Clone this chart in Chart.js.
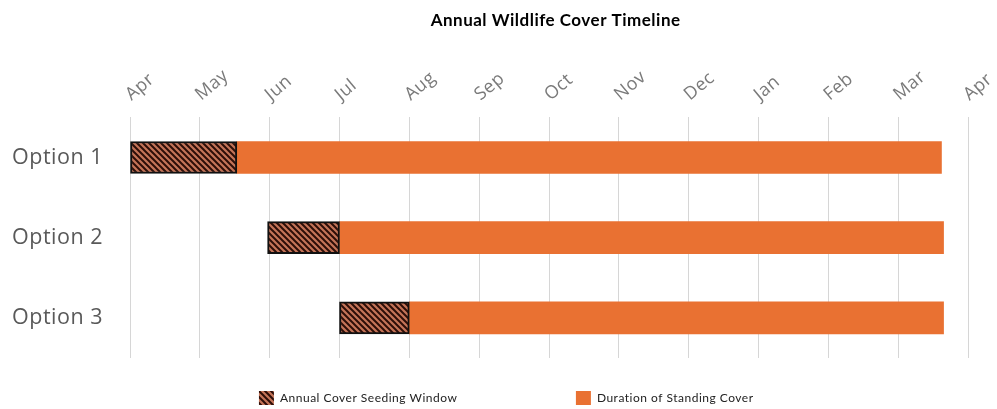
<!DOCTYPE html>
<html>
<head>
<meta charset="utf-8">
<script src="https://cdn.jsdelivr.net/npm/chart.js@4.4.1/dist/chart.umd.min.js"></script>
<style>
  html, body { margin: 0; padding: 0; background: #fff; }
  canvas { display: block; }
</style>
</head>
<body>
<canvas id="timelineChart" width="997" height="409"></canvas>
<script>
// months along the top axis, 0 = Apr ... 12 = Apr
const monthLabels = ['Apr', 'May', 'Jun', 'Jul', 'Aug', 'Sep', 'Oct', 'Nov', 'Dec', 'Jan', 'Feb', 'Mar', 'Apr']
const options = ['Option 1', 'Option 2', 'Option 3']

// [start, end] in months from April
const seedingWindow = [[0, 1.53], [1.97, 3], [3, 4]]
const standingCover = [[1.53, 11.62], [3, 11.65], [4, 11.65]]

const orange = '#E97132'

function makeHatch () {
  const tile = document.createElement('canvas')
  tile.width = 6
  tile.height = 6
  const c = tile.getContext('2d')
  c.fillStyle = 'rgb(196, 116, 88)'
  c.fillRect(0, 0, 6, 6)
  c.strokeStyle = 'rgb(45, 14, 8)'
  c.lineWidth = 2
  c.beginPath()
  for (const off of [-6, 0, 6]) {
    c.moveTo(off - 1, -1)
    c.lineTo(off + 7, 7)
  }
  c.stroke()
  return c.createPattern(tile, 'repeat')
}

// the original picture is a bit stretched sideways, so widen the text a little
const letterSpacing = {
  id: 'letterSpacing',
  beforeUpdate (chart) { chart.ctx.letterSpacing = '0.5px' },
  beforeLayout (chart) { chart.ctx.letterSpacing = '0.5px' },
  beforeDraw (chart) { chart.ctx.letterSpacing = '0.5px' }
}

const canvas = document.getElementById('timelineChart')
const ctx = canvas.getContext('2d')
const hatch = makeHatch()

const chart = new Chart(ctx, {
  type: 'bar',
  plugins: [letterSpacing],
  data: {
    labels: options,
    datasets: [
      {
        label: 'Annual Cover Seeding Window',
        data: seedingWindow,
        backgroundColor: hatch,
        borderColor: '#111',
        borderWidth: 2,
        borderSkipped: false
      },
      {
        label: 'Duration of Standing Cover',
        data: standingCover,
        backgroundColor: orange,
        borderWidth: 0
      }
    ]
  },
  options: {
    responsive: false,
    animation: false,
    devicePixelRatio: 1,
    indexAxis: 'y',
    grouped: false,
    barThickness: 32,
    layout: {
      padding: { left: 12, right: 29, top: 6, bottom: 0 }
    },
    scales: {
      x: {
        position: 'top',
        min: 0,
        max: 12,
        grid: { color: '#d6d6d6', lineWidth: 1, drawTicks: false },
        border: { display: false },
        ticks: {
          stepSize: 1,
          autoSkip: false,
          minRotation: 40,
          maxRotation: 40,
          padding: 12,
          labelOffset: 12,
          color: '#7a7a7a',
          font: { family: 'Open Sans', size: 18 },
          callback: (value) => monthLabels[value]
        },
        afterFit: (scale) => {
          scale.height = 79
          scale.paddingLeft = 0
          scale.paddingRight = 0
        }
      },
      y: {
        grid: { display: false },
        border: { display: false },
        ticks: {
          crossAlign: 'far',
          color: '#595959',
          font: { family: 'Open Sans', size: 21.5 }
        },
        afterFit: (scale) => {
          scale.width = 118
        }
      }
    },
    plugins: {
      title: {
        display: true,
        text: '\u2003Annual Wildlife Cover Timeline',
        color: '#000',
        fullSize: false,
        font: { family: 'Lato', size: 17, weight: 'bold' },
        padding: { top: 4, bottom: 8 }
      },
      legend: {
        position: 'bottom',
        fullSize: false,
        maxHeight: 51,
        labels: {
          padding: 33,
          boxWidth: 15,
          boxHeight: 14,
          color: '#222',
          font: { family: 'Lato', size: 12 },
          generateLabels: (ch) => {
            const items = Chart.defaults.plugins.legend.labels.generateLabels(ch)
            items.forEach((item, i) => {
              item.lineWidth = 0
              if (i === 0) item.text = item.text + '\u2003'.repeat(9)
              if (i === 1) item.text = item.text + '\u2003'.repeat(9)
            })
            return items
          }
        }
      },
      tooltip: { enabled: false }
    }
  }
})
</script>
</body>
</html>
